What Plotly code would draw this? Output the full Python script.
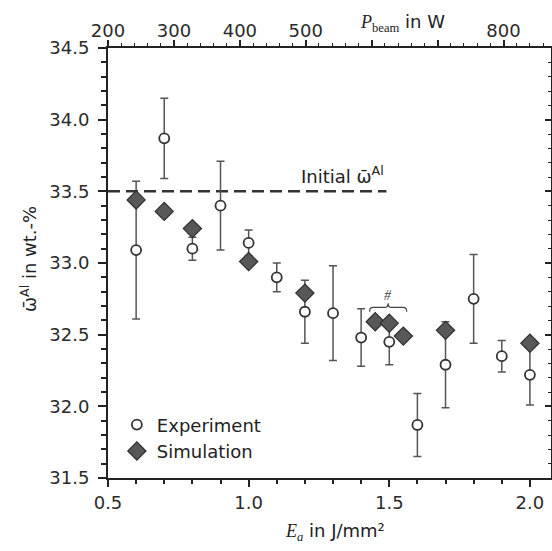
import plotly.graph_objects as go

# Experiment: mean Al content with error bars
exp_E = [0.6, 0.7, 0.8, 0.9, 1.0, 1.1, 1.2, 1.3, 1.4, 1.5, 1.6, 1.7, 1.8, 1.9, 2.0]
exp_w = [33.09, 33.87, 33.10, 33.40, 33.14, 32.90, 32.66, 32.65, 32.48, 32.45, 31.87, 32.29, 32.75, 32.35, 32.22]
exp_err = [0.48, 0.28, 0.08, 0.31, 0.09, 0.10, 0.22, 0.33, 0.20, 0.16, 0.22, 0.30, 0.31, 0.11, 0.21]

# Simulation results
sim_E = [0.6, 0.7, 0.8, 1.0, 1.2, 1.45, 1.5, 1.55, 1.7, 2.0]
sim_w = [33.44, 33.36, 33.24, 33.01, 32.79, 32.59, 32.58, 32.49, 32.53, 32.44]

initial_w = 33.5
initial_span = [0.5, 1.49]

# Secondary (top) axis: beam power
p_ticks = [200, 300, 400, 500, 600, 700, 800]
p_labels = ["200", "300", "400", "500", "", "", "800"]
p_range = [200, 872]

e_range = [0.5, 2.075]
w_range = [31.5, 34.5]

SANS = "DejaVu Sans"
SERIF = "Liberation Serif"
INK = "#222222"
MARK = "#555555"

fig = go.Figure()

# initial composition reference line
fig.add_trace(go.Scatter(
    x=initial_span, y=[initial_w, initial_w], mode="lines",
    line=dict(color="#333333", width=2.5, dash="12px,6px"),
    showlegend=False, hoverinfo="skip"))

# experiment error bars (drawn beneath the simulation markers)
fig.add_trace(go.Scatter(
    x=exp_E, y=exp_w, mode="markers",
    marker=dict(size=10, color="rgba(0,0,0,0)"),
    error_y=dict(type="data", array=exp_err, color=MARK, thickness=1.5, width=4),
    showlegend=False, hoverinfo="skip"))

fig.add_trace(go.Scatter(
    x=sim_E, y=sim_w, mode="markers", name="Simulation",
    marker=dict(symbol="diamond", size=14, color="#585858",
                line=dict(color="#2e2e2e", width=1.2))))

fig.add_trace(go.Scatter(
    x=exp_E, y=exp_w, mode="markers", name="Experiment",
    marker=dict(symbol="circle", size=10, color="white",
                line=dict(color="#333333", width=1.8))))

# invisible trace carrying the top axis
fig.add_trace(go.Scatter(x=p_range, y=[None, None], xaxis="x2", yaxis="y",
                         showlegend=False, hoverinfo="skip"))
# right-hand axis with inward ticks
fig.add_trace(go.Scatter(x=[None], y=[None], xaxis="x", yaxis="y2",
                         showlegend=False, hoverinfo="skip"))

# bracket grouping the three simulation points near 1.5 J/mm²
grp = [e for e in sim_E if 1.4 < e < 1.6]
bx0, bx1 = min(grp) - 0.02, max(grp) + 0.012
bxm = (bx0 + bx1) / 2
by, bh, bw = 32.69, 0.03, 0.012
fig.add_shape(type="path", xref="x", yref="y",
              path=(f"M {bx0},{by - bh} Q {bx0},{by} {bx0 + bw},{by} "
                    f"L {bxm - bw},{by} Q {bxm},{by} {bxm},{by + bh} "
                    f"Q {bxm},{by} {bxm + bw},{by} L {bx1 - bw},{by} "
                    f"Q {bx1},{by} {bx1},{by - bh}"),
              line=dict(color="#444444", width=1.2))
fig.add_annotation(x=bxm, y=by + bh, xref="x", yref="y", text="<i>#</i>",
                   showarrow=False, yanchor="bottom", yshift=-2,
                   font=dict(family=SERIF, size=14, color="#444444"))

fig.add_annotation(x=initial_span[1], y=initial_w, xref="x", yref="y",
                   text="Initial ω̄<sup>Al</sup>", showarrow=False,
                   xanchor="right", yanchor="bottom", yshift=2,
                   font=dict(family=SANS, size=18, color=INK))

# axis titles
fig.add_annotation(x=0.512, y=-0.125, xref="paper", yref="paper",
                   xanchor="center", yanchor="middle",
                   text=(f"<span style='font-family:{SERIF}'><i>E<sub>a</sub></i></span>"
                         " in J/mm²"),
                   showarrow=False, font=dict(family=SANS, size=18, color=INK))
fig.add_annotation(x=0.664, y=1.058, xref="paper", yref="paper",
                   xanchor="center", yanchor="middle",
                   text=(f"<span style='font-family:{SERIF}'><i>P</i><sub>beam</sub></span>"
                         " in W"),
                   showarrow=False, font=dict(family=SANS, size=18, color=INK))
fig.add_annotation(x=-0.18, y=0.51, xref="paper", yref="paper",
                   xanchor="center", yanchor="middle",
                   text="ω̄<sup>Al</sup> in wt.-%", textangle=-90,
                   showarrow=False, font=dict(family=SANS, size=18, color=INK))

axis_common = dict(showgrid=False, zeroline=False, showline=True,
                   linecolor=INK, linewidth=2, tickcolor=INK, tickwidth=1.5,
                   tickfont=dict(family=SANS, size=18, color="#2a2a2a"))

fig.update_layout(
    width=552, height=551,
    margin=dict(l=108, r=1, t=48, b=73),
    paper_bgcolor="white", plot_bgcolor="white",
    showlegend=True,
    legend=dict(x=0.02, y=0.02, xanchor="left", yanchor="bottom",
                bgcolor="rgba(0,0,0,0)", traceorder="reversed",
                font=dict(family=SANS, size=18, color=INK),
                itemwidth=30, tracegroupgap=0),
    xaxis=dict(range=e_range, tickvals=[0.5, 1.0, 1.5, 2.0], tickformat=".1f",
               ticks="outside", ticklen=7,
               minor=dict(dtick=0.1, tick0=0.5, ticks="outside", ticklen=4,
                          tickcolor=INK, tickwidth=1.5),
               **axis_common),
    xaxis2=dict(range=p_range, overlaying="x", side="top", anchor="y",
                tickvals=p_ticks, ticktext=p_labels,
                ticks="outside", ticklen=6, ticklabelstandoff=-4,
                minor=dict(dtick=20, tick0=200, ticks="outside", ticklen=3,
                           tickcolor=INK, tickwidth=1.2),
                **axis_common),
    yaxis=dict(range=w_range, dtick=0.5, tick0=31.5, tickformat=".1f",
               ticks="outside", ticklen=8, ticklabelstandoff=5,
               minor=dict(dtick=0.1, tick0=31.5, ticks="outside", ticklen=5,
                          tickcolor=INK, tickwidth=1.5),
               **axis_common),
    yaxis2=dict(range=w_range, overlaying="y", side="right", anchor="x",
                dtick=0.5, tick0=31.5, showticklabels=False,
                ticks="inside", ticklen=6,
                minor=dict(dtick=0.1, tick0=31.5, ticks="inside", ticklen=3,
                           tickcolor=INK, tickwidth=1.2),
                showgrid=False, zeroline=False, showline=True,
                linecolor=INK, linewidth=1, tickcolor=INK, tickwidth=1.5),
)

fig.write_html("out.html")
